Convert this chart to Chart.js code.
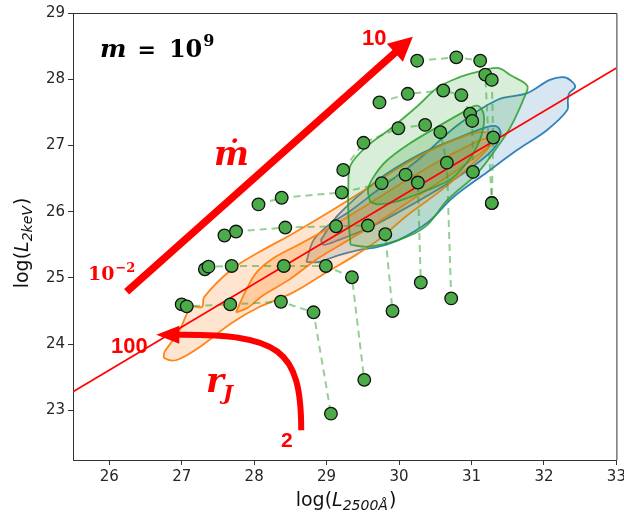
<!DOCTYPE html>
<html><head><meta charset="utf-8">
<script src="https://cdn.jsdelivr.net/npm/chart.js@4.4.0/dist/chart.umd.min.js"></script>
<style>html,body{margin:0;padding:0;background:#fff;}</style>
</head><body>
<canvas id="c" width="624" height="515"></canvas>
<script>
// ---- axes ----
const xTickValues = [26, 27, 28, 29, 30, 31, 32, 33];
const yTickValues = [23, 24, 25, 26, 27, 28, 29];
const xLimits = [25.5, 33];
const yLimits = [22.25, 29];

// ---- model tracks: [log L2500, log L2keV] ----
const trackA = [[27.00,24.60],[27.07,24.57],[27.67,24.60],[28.37,24.64],[28.82,24.48],[29.06,22.95]];
const trackB = [[27.32,25.13],[27.37,25.17],[27.69,25.18],[28.41,25.18],[28.99,25.18],[29.35,25.01],[29.52,23.46]];
const trackC = [[27.59,25.64],[27.75,25.70],[28.43,25.76],[29.13,25.78],[29.57,25.79],[29.81,25.66],[29.91,24.50]];
const trackD = [[28.06,26.11],[28.38,26.21],[29.21,26.29],[29.76,26.43],[30.09,26.56],[30.26,26.44],[30.30,24.93]];
const trackE = [[29.23,26.63],[29.51,27.04],[29.99,27.26],[30.36,27.31],[30.57,27.20],[30.66,26.74],[30.72,24.69]];
const trackF = [[29.73,27.65],[30.12,27.78],[30.61,27.83],[30.86,27.76],[30.98,27.48],[31.01,27.37],[31.02,26.60]];
const trackG = [[30.25,28.28],[30.79,28.33],[31.12,28.28],[31.19,28.07],[31.28,26.13]];
const trackH = [[31.28,27.99],[31.30,27.12],[31.28,26.13]];
const tracks = [trackA, trackB, trackC, trackD, trackE, trackF, trackG, trackH];

// ---- L_X - L_UV relation ----
const relationX = [25.5, 33];
const relationY = [23.28, 28.17];

// ---- observed-sample density contours ----
const blueOuter = [[28.72,25.24],[28.82,25.57],[29.03,25.80],[29.30,25.99],[29.71,26.33],[30.26,26.78],[30.81,27.31],[31.36,27.69],[31.77,27.79],[32.08,27.99],[32.28,28.03],[32.39,27.96],[32.43,27.88],[32.35,27.79],[32.33,27.69],[32.32,27.53],[32.04,27.23],[31.63,26.93],[31.22,26.60],[30.74,26.21],[30.40,25.84],[29.99,25.57],[29.71,25.47],[29.44,25.42],[29.16,25.34],[28.89,25.24]];
const blueInner = [[28.92,25.57],[29.16,25.95],[29.71,26.48],[30.26,26.85],[30.81,27.11],[31.22,27.28],[31.36,27.28],[31.40,27.16],[31.29,26.93],[30.95,26.63],[30.53,26.33],[29.99,25.99],[29.57,25.75],[29.16,25.57],[28.96,25.50]];
const greenOuter = [[29.33,25.50],[29.30,25.95],[29.30,26.40],[29.33,26.70],[29.55,26.98],[29.89,27.26],[30.26,27.60],[30.53,27.87],[30.81,28.02],[31.08,28.11],[31.36,28.17],[31.54,28.06],[31.77,27.90],[31.73,27.73],[31.54,27.28],[31.36,26.98],[31.08,26.58],[30.67,26.18],[30.36,25.77],[29.99,25.57],[29.57,25.47]];
const greenInner = [[29.60,26.15],[29.57,26.33],[29.64,26.51],[29.81,26.75],[30.12,27.01],[30.53,27.28],[30.88,27.50],[31.08,27.60],[31.17,27.46],[31.14,27.16],[30.99,26.82],[30.74,26.51],[30.40,26.33],[29.99,26.16],[29.71,26.11]];
const orangeOuter = [[26.76,23.88],[26.97,24.21],[27.13,24.56],[27.28,24.56],[27.31,24.71],[27.68,25.12],[28.07,25.39],[28.52,25.66],[29.03,25.99],[29.53,26.33],[29.99,26.66],[30.44,26.93],[30.90,27.14],[31.12,27.20],[31.29,27.16],[31.29,27.05],[31.15,26.86],[30.95,26.66],[30.53,26.28],[30.12,25.95],[29.71,25.57],[29.44,25.37],[28.98,25.07],[28.52,24.77],[28.07,24.56],[27.69,24.32],[27.24,23.95],[26.93,23.76],[26.76,23.79]];
const orangeInner = [[27.75,24.48],[27.89,24.82],[28.04,25.09],[28.27,25.30],[28.61,25.50],[29.03,25.75],[29.44,26.02],[29.99,26.40],[30.53,26.75],[30.95,26.99],[31.22,27.11],[31.25,27.01],[30.95,26.74],[30.53,26.43],[30.12,26.14],[29.71,25.84],[29.30,25.57],[28.89,25.30],[28.48,24.97],[28.13,24.74],[27.90,24.54]];

// ---- arrows (data units) ----
const mdotArrow = [[26.24,24.79],[30.19,28.64]];               // start, tip
const rjArrowCurve = [[28.65,22.70],[28.65,23.94],[28.34,24.15],[26.94,24.14]]; // bezier
const rjArrowTip = [26.65,24.14];

const toXY = a => a.map(p => ({x: p[0], y: p[1]}));
const closed = a => toXY(a.concat([a[0]]));

function contour(pts, stroke, fillCol, order) {
  return {data: closed(pts), showLine: true, fill: 'shape', backgroundColor: fillCol,
    borderColor: stroke, borderWidth: 1.8, pointRadius: 0, tension: 0.35, order: order};
}

const datasets = [];
datasets.push({data: toXY(tracks.flat()), showLine: false, pointRadius: 6.3,
  pointBackgroundColor: '#4aab48', pointBorderColor: '#111', pointBorderWidth: 1.3, order: 0});
datasets.push({data: toXY([[relationX[0], relationY[0]], [relationX[1], relationY[1]]]), showLine: true,
  borderColor: '#ff0000', borderWidth: 1.6, pointRadius: 0, order: 1});
tracks.forEach(t => datasets.push({data: toXY(t), showLine: true, borderColor: 'rgba(44,160,44,0.5)',
  borderWidth: 2, borderDash: [7, 5], pointRadius: 0, order: 2}));
datasets.push(contour(greenInner, 'rgba(44,160,44,0.85)', 'rgba(44,160,44,0.22)', 3));
datasets.push(contour(greenOuter, 'rgba(44,160,44,0.85)', 'rgba(44,160,44,0.18)', 4));
datasets.push(contour(orangeInner, 'rgba(255,127,14,0.95)', 'rgba(255,127,14,0.25)', 5));
datasets.push(contour(orangeOuter, 'rgba(255,127,14,0.95)', 'rgba(255,127,14,0.2)', 6));
datasets.push(contour(blueInner, 'rgba(31,119,180,0.9)', 'rgba(31,119,180,0.2)', 7));
datasets.push(contour(blueOuter, 'rgba(31,119,180,0.9)', 'rgba(31,119,180,0.18)', 8));

function runs(ctx, x, y, parts, align) {
  let total = 0;
  parts.forEach(p => { ctx.font = p.font; p.w = ctx.measureText(p.t).width; total += p.w + (p.dx || 0); });
  let cx = align === 'center' ? x - total / 2 : x;
  parts.forEach(p => { ctx.font = p.font; ctx.fillStyle = p.c || ctx.fillStyle;
    cx += (p.dx || 0); ctx.fillText(p.t, cx, y + (p.dy || 0)); cx += p.w; });
}

const decor = {
  id: 'decor',
  afterDatasetsDraw(chart) {
    const {ctx, chartArea: a, scales: {x, y}} = chart;
    const P = p => [x.getPixelForValue(p[0]), y.getPixelForValue(p[1])];
    ctx.save();
    ctx.strokeStyle = '#333'; ctx.lineWidth = 1;
    ctx.beginPath(); ctx.moveTo(a.left, a.top + 0.5); ctx.lineTo(a.right + 0.5, a.top + 0.5);
    ctx.lineTo(a.right + 0.5, a.bottom); ctx.stroke();
    ctx.beginPath(); ctx.rect(a.left, a.top, a.right - a.left, a.bottom - a.top + 30); ctx.clip();
    ctx.fillStyle = '#ff0000'; ctx.strokeStyle = '#ff0000';
    const s = P(mdotArrow[0]), t = P(mdotArrow[1]);
    let dx = t[0] - s[0], dy = t[1] - s[1], L = Math.hypot(dx, dy); dx /= L; dy /= L;
    const hl = 24, hw = 12;
    ctx.lineWidth = 7.5; ctx.lineCap = 'butt';
    ctx.beginPath(); ctx.moveTo(s[0], s[1]); ctx.lineTo(t[0] - dx * (hl - 2), t[1] - dy * (hl - 2)); ctx.stroke();
    ctx.beginPath(); ctx.moveTo(t[0], t[1]);
    ctx.lineTo(t[0] - dx * hl - dy * hw, t[1] - dy * hl + dx * hw);
    ctx.lineTo(t[0] - dx * hl + dy * hw, t[1] - dy * hl - dx * hw); ctx.closePath(); ctx.fill();
    const c = rjArrowCurve.map(P), tip = P(rjArrowTip);
    ctx.lineWidth = 6;
    ctx.beginPath(); ctx.moveTo(c[0][0], c[0][1]);
    ctx.bezierCurveTo(c[1][0], c[1][1], c[2][0], c[2][1], c[3][0], c[3][1]); ctx.stroke();
    ctx.beginPath(); ctx.moveTo(tip[0], tip[1]);
    ctx.lineTo(c[3][0] + 2, c[3][1] - 9); ctx.lineTo(c[3][0] + 2, c[3][1] + 9); ctx.closePath(); ctx.fill();
    ctx.restore();
  },
  afterDraw(chart) {
    const ctx = chart.ctx;
    ctx.save();
    ctx.textBaseline = 'alphabetic';
    ctx.fillStyle = '#000';
    runs(ctx, 100, 57, [
      {t: 'm', font: 'italic bold 25px "DejaVu Serif"'},
      {t: '=', font: 'bold 22px "DejaVu Serif"', dx: 11},
      {t: '10', font: 'bold 24px "DejaVu Serif"', dx: 13},
      {t: '9', font: 'bold 16px "DejaVu Serif"', dy: -11, dx: 1}
    ]);
    ctx.fillStyle = '#ff0000';
    runs(ctx, 214, 165, [{t: '\u1E41', font: 'italic bold 33px "DejaVu Serif"'}]);
    runs(ctx, 362, 45, [{t: '10', font: 'bold 22px "Liberation Sans"'}]);
    runs(ctx, 88, 280, [
      {t: '10', font: 'bold 19px "DejaVu Serif"'},
      {t: '\u22122', font: 'bold 13px "DejaVu Serif"', dy: -8, dx: 1}
    ]);
    runs(ctx, 111, 353, [{t: '100', font: 'bold 22px "Liberation Sans"'}]);
    runs(ctx, 206, 392, [
      {t: 'r', font: 'italic bold 34px "DejaVu Serif"'},
      {t: 'J', font: 'italic bold 21px "DejaVu Serif"', dy: 8, dx: -1}
    ]);
    runs(ctx, 281, 447, [{t: '2', font: 'bold 21px "Liberation Sans"'}]);
    ctx.fillStyle = '#111';
    runs(ctx, 346, 506, [
      {t: 'log(', font: '19px "DejaVu Sans"'},
      {t: 'L', font: 'italic 19px "DejaVu Sans"'},
      {t: '2500\u00C5', font: 'italic 14px "DejaVu Sans"', dy: 4},
      {t: ')', font: '19px "DejaVu Sans"', dx: 1}
    ], 'center');
    ctx.translate(28, 243); ctx.rotate(-Math.PI / 2);
    runs(ctx, 0, 0, [
      {t: 'log(', font: '19px "DejaVu Sans"'},
      {t: 'L', font: 'italic 19px "DejaVu Sans"'},
      {t: '2keV', font: 'italic 14px "DejaVu Sans"', dy: 4},
      {t: ')', font: '19px "DejaVu Sans"', dx: 1}
    ], 'center');
    ctx.restore();
  }
};

const tickFont = {family: 'DejaVu Sans', size: 15};
function axis(min, max, vals, isX) {
  return {
    type: 'linear', min: min, max: max,
    afterBuildTicks: s => { s.ticks = vals.map(v => ({value: v})); },
    afterFit: s => { if (isX) s.height = 55; else s.width = 73; s.paddingLeft = 0; s.paddingRight = 0; s.paddingTop = 0; s.paddingBottom = 0; },
    grid: {display: true, drawOnChartArea: false, drawTicks: true, tickLength: 5, color: '#333', tickWidth: 1},
    border: {display: true, color: '#333', width: 1},
    ticks: {font: tickFont, color: '#262626', padding: 3, autoSkip: false, maxRotation: 0, minRotation: 0}
  };
}

new Chart(document.getElementById('c'), {
  type: 'scatter',
  data: {datasets: datasets},
  options: {
    responsive: false, animation: false, devicePixelRatio: 1,
    layout: {padding: {left: 0, top: 13, right: 4, bottom: 0}},
    plugins: {legend: {display: false}, tooltip: {enabled: false}},
    scales: {x: axis(xLimits[0], xLimits[1], xTickValues, true), y: axis(yLimits[0], yLimits[1], yTickValues, false)}
  },
  plugins: [decor]
});
</script>
</body></html>
